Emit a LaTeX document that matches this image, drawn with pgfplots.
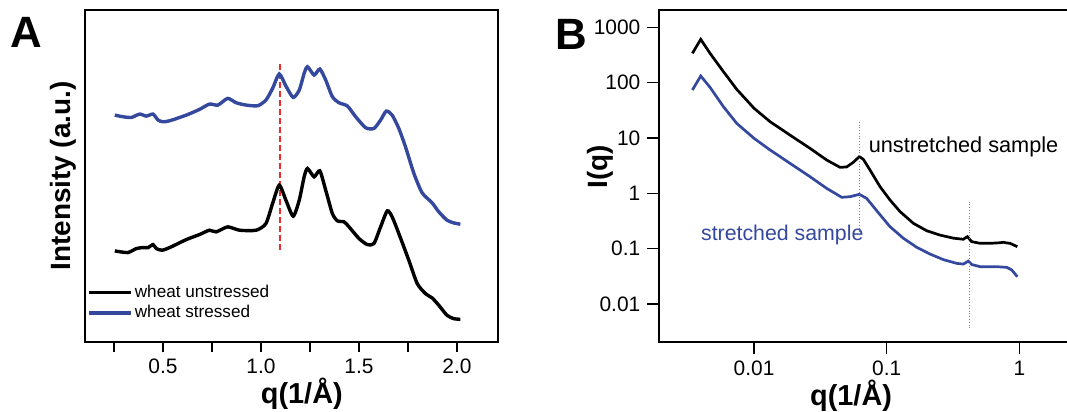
\documentclass[border=0pt]{standalone}
\usepackage{fontspec}
\setmainfont{Liberation Sans}
\usepackage{pgfplots}
\usepackage{pgfplotstable}
\pgfplotsset{compat=1.18}
\definecolor{wblue}{RGB}{52,72,158}
\definecolor{dashred}{RGB}{235,45,45}

\pgfplotstableread{
x y
0.254 273
0.320 268
0.364 280
0.398 283
0.424 283
0.449 292
0.466 280
0.495 275
0.534 283
0.619 307
0.686 322
0.737 335
0.771 330
0.830 345
0.890 335
0.975 335
1.025 355
1.059 415
1.093 470
1.127 425
1.164 377
1.195 425
1.220 495
1.237 520
1.271 495
1.300 513
1.330 455
1.364 385
1.390 363
1.424 360
1.449 345
1.500 310
1.542 292
1.576 295
1.610 345
1.644 393
1.669 375
1.703 325
1.754 245
1.797 175
1.839 145
1.873 132
1.907 110
1.949 80
1.983 70
2.017 68
}\unstressed

\pgfplotstableread{
x y
0.254 680
0.296 675
0.339 673
0.381 683
0.415 677
0.449 683
0.475 665
0.500 660
0.534 663
0.619 680
0.686 697
0.737 713
0.780 710
0.830 730
0.873 717
0.924 710
0.983 708
1.025 725
1.059 760
1.093 803
1.127 767
1.164 733
1.195 755
1.220 805
1.237 825
1.271 800
1.300 818
1.330 785
1.364 735
1.398 717
1.441 707
1.483 675
1.534 642
1.576 640
1.610 665
1.639 692
1.669 680
1.703 640
1.737 585
1.780 505
1.822 447
1.873 417
1.907 390
1.949 365
1.983 357
2.017 353
}\stressed

\pgfplotstableread{
x y
0.003428 339
0.003963 607
0.004656 339
0.005875 158
0.007398 75.9
0.01 34.4
0.01321 19.7
0.01866 11.3
0.02641 6.5
0.03529 4.0
0.04449 2.95
0.04990 3.0
0.05610 3.65
0.06223 4.6
0.06670 4.11
0.07486 2.64
0.08907 1.32
0.1059 0.758
0.1262 0.467
0.1590 0.287
0.2003 0.211
0.2524 0.176
0.3182 0.155
0.3784 0.148
0.4055 0.165
0.4375 0.134
0.5058 0.125
0.6012 0.125
0.7149 0.128
0.7574 0.1305
0.8033 0.127
0.8511 0.125
0.9660 0.1086
}\unstretched

\pgfplotstableread{
x y
0.003428 73.7
0.003963 132
0.004656 82.4
0.005875 36.8
0.007398 18.4
0.01 9.86
0.01321 6.07
0.01866 3.49
0.02641 2.0
0.03529 1.23
0.04580 0.847
0.05295 0.87
0.06223 0.96
0.07066 0.81
0.08405 0.486
0.1059 0.25
0.1337 0.154
0.1684 0.106
0.2122 0.080
0.2674 0.0634
0.3372 0.0543
0.3784 0.0527
0.4129 0.0598
0.4375 0.0518
0.5058 0.0473
0.6746 0.0473
0.8033 0.046
0.8750 0.0415
0.9660 0.0312
}\stretchedB

\begin{document}
\begin{tikzpicture}
\useasboundingbox (0,0) rectangle (533.5bp,206bp);
\clip (0,0) rectangle (533.5bp,206bp);
% ---------------- Panel A
\begin{axis}[
  at={(42.5bp,35bp)}, anchor=south west,
  scale only axis, width=206.5bp, height=166bp,
  xmin=0.102, xmax=2.209, ymin=0, ymax=995,
  axis line style={line width=1bp},
  xtick={0.5,1.0,1.5,2.0},
  xticklabels={0.5,1.0,1.5,2.0},
  minor xtick={0.25,0.75,1.25,1.75},
  ytick=\empty,
  xtick pos=bottom, tick align=outside,
  major tick length=5bp, minor tick length=5bp,
  every tick/.style={black, line width=0.8bp},
  ticklabel style={font=\fontsize{10.5}{12}\selectfont},
  /pgf/number format/assume math mode=true,
  xlabel={\bfseries q(1/Å)},
  ylabel={\bfseries Intensity (a.u.)},
  xlabel style={font=\fontsize{14.5}{16}\selectfont, at={(ticklabel cs:0.525)}, anchor=north, yshift=5bp},
  ylabel style={font=\fontsize{14}{16}\selectfont, yshift=-4bp},
  legend style={at={(rel axis cs:0.005,0.185)}, anchor=north west, draw=none, fill=none,
    font=\fontsize{8.6}{10}\selectfont, row sep=-1.5bp, inner sep=0pt,
    nodes={inner xsep=1bp}},
  legend cell align=left,
  legend image code/.code={\draw[#1] (0bp,0bp) -- (21bp,0bp);},
  clip=false,
]
\addplot[dashred, line width=0.9bp, dash pattern=on 3bp off 1.5bp, forget plot] coordinates {(1.095,275) (1.095,835)};
\addplot[black, line width=1.7bp, smooth, tension=0.4] table[x=x,y=y] {\unstressed};
\addlegendentry{wheat unstressed}
\addplot[wblue, line width=1.7bp, smooth, tension=0.4] table[x=x,y=y] {\stressed};
\addlegendentry{wheat stressed}
\end{axis}
\node[font=\fontsize{22}{24}\selectfont\bfseries] at (13bp,190bp) {A};
% ---------------- Panel B
\begin{axis}[
  at={(329.65bp,35bp)}, anchor=south west,
  scale only axis, width=211.65bp, height=166bp,
  xmode=log, ymode=log,
  xmin=0.00193, xmax=3, ymin=0.00206, ymax=2055,
  axis line style={line width=1bp},
  xtick={0.01,0.1,1}, xticklabels={0.01,0.1,1},
  ytick={0.01,0.1,1,10,100,1000}, yticklabels={0.01,0.1,1,10,100,1000},
  xminorticks=false, yminorticks=false,
  xtick pos=bottom, ytick pos=left, tick align=outside,
  major tick length=6bp,
  every tick/.style={black, line width=0.8bp},
  ticklabel style={font=\fontsize{10.5}{12}\selectfont},
  /pgf/number format/assume math mode=true,
  xlabel={\bfseries q(1/Å)},
  ylabel={\bfseries I(q)},
  xlabel style={font=\fontsize{14.5}{16}\selectfont, at={(ticklabel cs:0.453)}, anchor=north, yshift=5bp},
  ylabel style={font=\fontsize{14}{16}\selectfont, at={(axis description cs:-0.14,0.527)}, anchor=center},
  clip=false,
]
\addplot[black, line width=1.35bp] table[x=x,y=y] {\unstretched};
\addplot[wblue, line width=1.35bp] table[x=x,y=y] {\stretchedB};
\draw[gray, densely dotted, line width=0.4bp] (axis cs:0.0622,19.7) -- (axis cs:0.0622,0.189);
\draw[gray, densely dotted, line width=0.4bp] (axis cs:0.419,0.707) -- (axis cs:0.419,0.0034);
\node[anchor=west, font=\fontsize{10.9}{12}\selectfont, inner sep=0pt] at (axis cs:0.0728,6.97) {unstretched sample};
\node[anchor=west, font=\fontsize{10.7}{12}\selectfont, text=wblue, inner sep=0pt] at (axis cs:0.00396,0.177) {stretched sample};
\end{axis}
\node[font=\fontsize{22}{24}\selectfont\bfseries] at (285.5bp,189bp) {B};
\end{tikzpicture}
\end{document}
